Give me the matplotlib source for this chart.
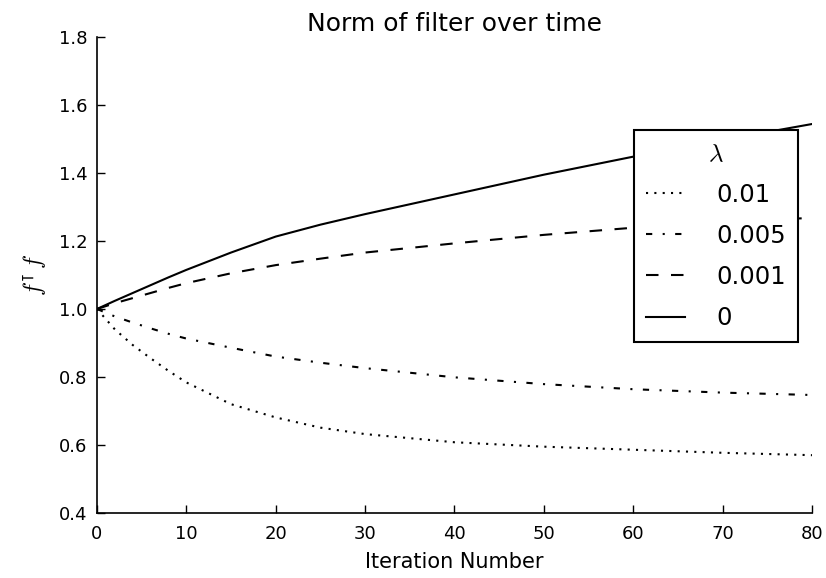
import matplotlib
matplotlib.use("Agg")
import matplotlib.pyplot as plt

iterations = [0, 2, 4, 6, 8, 10, 15, 20, 25, 30, 40, 50, 60, 70, 80]
norm_001 = [1.0, 0.94, 0.894, 0.855, 0.818, 0.784, 0.720, 0.681, 0.651, 0.632, 0.608, 0.595, 0.586, 0.577, 0.570]
norm_0005 = [1.0, 0.978, 0.960, 0.943, 0.927, 0.913, 0.886, 0.860, 0.842, 0.826, 0.799, 0.779, 0.764, 0.754, 0.747]
norm_0001 = [1.0, 1.017, 1.032, 1.047, 1.062, 1.076, 1.105, 1.129, 1.148, 1.166, 1.193, 1.218, 1.239, 1.256, 1.268]
norm_0 = [1.0, 1.024, 1.047, 1.070, 1.093, 1.115, 1.166, 1.213, 1.248, 1.279, 1.337, 1.395, 1.448, 1.497, 1.544]
labels = ["0.01", "0.005", "0.001", "0"]
styles = [(0, (1, 3)), (0, (3, 5, 1, 5)), (0, (6, 6)), "-"]

plt.rcParams['mathtext.fontset'] = 'cm'
fig = plt.figure(figsize=(8.26, 5.78), dpi=100)
ax = fig.add_axes([0.1174, 0.1125, 0.8656, 0.8235])

for ys, lab, ls in zip([norm_001, norm_0005, norm_0001, norm_0], labels, styles):
    ax.plot(iterations, ys, color='black', linestyle=ls, linewidth=1.5, label=lab)

ax.set_xlim(0, 80)
ax.set_ylim(0.4, 1.8)
ax.set_xticks(range(0, 81, 10))
ax.set_yticks([0.4, 0.6, 0.8, 1.0, 1.2, 1.4, 1.6, 1.8])
ax.spines['top'].set_visible(False)
ax.spines['right'].set_visible(False)
for s in ['left', 'bottom']:
    ax.spines[s].set_linewidth(1.2)
ax.tick_params(direction='in', length=6, width=1, labelsize=13,
               top=False, right=False)
ax.tick_params(axis='x', pad=9)
ax.tick_params(axis='y', pad=7)
ax.set_title("Norm of filter over time", fontsize=18, pad=4.5)
ax.set_xlabel("Iteration Number", fontsize=15, labelpad=6)
ax.set_ylabel(r"$f^{\intercal}\, f$", fontsize=17, labelpad=8)

leg = ax.legend(title=r"$\lambda$", fontsize=17.5, title_fontsize=18,
                loc='upper left', bbox_to_anchor=(0.751, 0.805),
                borderaxespad=0, fancybox=False, framealpha=1, edgecolor='black',
                handlelength=1.6, handletextpad=1.3, borderpad=0.5,
                labelspacing=0.7)
leg.get_frame().set_linewidth(1.5)

fig.savefig("out.png", dpi=100)
